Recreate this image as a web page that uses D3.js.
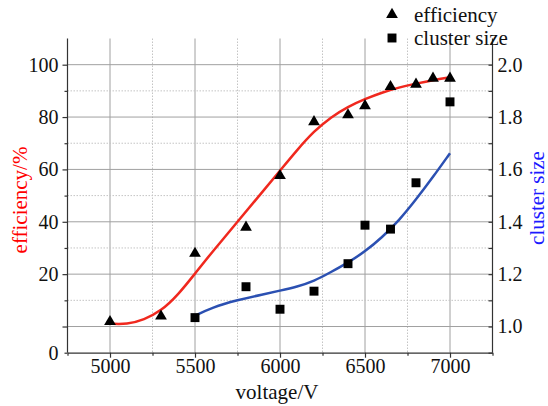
<!DOCTYPE html>
<html lang="en">
<head>
  <meta charset="UTF-8">
  <title>Efficiency and cluster size vs voltage</title>
  <script src="https://d3js.org/d3.v7.min.js"></script>
  <style>
    body { margin: 0; background: #fff; }
    text { font-family: "Liberation Serif", "Times New Roman", serif; fill: #111; }
    .axis path, .axis line { stroke: #333; stroke-width: 1.2; }
    .grid-major { stroke: #a0a0a0; stroke-width: 1; }
    .grid-minor { stroke: #c4c4c4; stroke-width: 1; stroke-dasharray: 1.5,1.5; }
  </style>
</head>
<body>
  <script>
    // measured points
    const effVoltage = [5000, 5300, 5500, 5800, 6000, 6200, 6400, 6500, 6650, 6800, 6900, 7000];
    const effValues = [7.9, 9.3, 27.9, 37.9, 57.6, 78.2, 80.8, 84.3, 91.6, 92.5, 94.8, 94.8];
    const sizeVoltage = [5500, 5800, 6000, 6200, 6400, 6500, 6650, 6800, 7000];
    const sizeValues = [1.034, 1.152, 1.066, 1.135, 1.240, 1.387, 1.372, 1.549, 1.858];

    // fitted curves
    const effFitVoltage = [5000, 5100, 5200, 5300, 5400, 5500, 5600, 5750, 5900, 6000, 6100, 6200, 6300, 6400, 6500, 6600, 6700, 6800, 6900, 7000];
    const effFit = [7.4, 7.2, 8.4, 10.6, 14.7, 20.2, 28.4, 40.0, 51.7, 59.5, 67.4, 74.6, 80.0, 84.0, 86.9, 89.4, 91.3, 92.8, 94.1, 95.2];
    const sizeFitVoltage = [5500, 5600, 5750, 5900, 6000, 6100, 6200, 6300, 6400, 6500, 6600, 6700, 6800, 6900, 7000];
    const sizeFit = [1.041, 1.073, 1.101, 1.123, 1.137, 1.152, 1.173, 1.208, 1.244, 1.286, 1.340, 1.405, 1.485, 1.571, 1.662];

    // ticks
    const xMajorTicks = [5000, 5500, 6000, 6500, 7000];
    const xMinorTicks = [4750, 5250, 5750, 6250, 6750, 7250];
    const effTicks = [0, 20, 40, 60, 80, 100];
    const sizeMajorTicks = [1.0, 1.2, 1.4, 1.6, 1.8, 2.0];
    const sizeMinorTicks = [0.9, 1.1, 1.3, 1.5, 1.7, 1.9];

    const margin = {top: 38.5, right: 55.5, bottom: 53.3, left: 67.5};
    const W = 548, H = 406;
    const width = W - margin.left - margin.right;
    const height = H - margin.top - margin.bottom;

    const x = d3.scaleLinear().domain([4750, 7250]).range([0, width]);
    // left axis: the 0 label sits at the bottom of the frame, 20..110 evenly spaced
    const yL = d3.scaleLinear().domain([0, 20, 110]).range([height, height * (1 - 0.3 / 1.2), 0]);
    const yR = d3.scaleLinear().domain([0.9, 2.1]).range([height, 0]);

    const svg = d3.select("body").append("svg")
      .attr("width", W)
      .attr("height", H);

    const g = svg.append("g")
      .attr("transform", "translate(" + margin.left + "," + margin.top + ")");

    // grid
    g.selectAll(".gx").data(xMinorTicks.slice(1, -1)).enter().append("line")
      .attr("class", "grid-minor")
      .attr("x1", d => x(d)).attr("x2", d => x(d))
      .attr("y1", 0).attr("y2", height);
    g.selectAll(".gX").data(xMajorTicks).enter().append("line")
      .attr("class", "grid-major")
      .attr("x1", d => x(d)).attr("x2", d => x(d))
      .attr("y1", 0).attr("y2", height);
    g.selectAll(".gy").data(sizeMinorTicks.slice(1)).enter().append("line")
      .attr("class", "grid-minor")
      .attr("x1", 0).attr("x2", width)
      .attr("y1", d => yR(d)).attr("y2", d => yR(d));
    g.selectAll(".gY").data(sizeMajorTicks).enter().append("line")
      .attr("class", "grid-major")
      .attr("x1", 0).attr("x2", width)
      .attr("y1", d => yR(d)).attr("y2", d => yR(d));

    // axes
    const xAxis = g.append("g")
      .attr("class", "axis")
      .attr("transform", "translate(0," + height + ")")
      .call(d3.axisBottom(x).tickValues(xMajorTicks).tickSize(5).tickSizeOuter(0).tickPadding(1).tickFormat(d3.format("d")));
    xAxis.selectAll("text").style("font-size", "20px").attr("fill", "#111");
    g.append("g")
      .attr("class", "axis")
      .attr("transform", "translate(0," + height + ")")
      .call(d3.axisBottom(x).tickValues(xMinorTicks).tickSize(3).tickSizeOuter(0).tickFormat(""))
      .select(".domain").remove();

    const leftTicks = g.append("g")
      .attr("class", "axis")
      .call(d3.axisLeft(yR).tickValues(sizeMajorTicks).tickSize(5).tickSizeOuter(0).tickFormat(""));
    leftTicks.select(".domain").attr("d", "M0," + height + "V0");
    g.append("g")
      .attr("class", "axis")
      .call(d3.axisLeft(yR).tickValues(sizeMinorTicks).tickSize(3).tickSizeOuter(0).tickFormat(""))
      .select(".domain").remove();
    const leftLabels = g.append("g")
      .attr("class", "axis")
      .call(d3.axisLeft(yL).tickValues(effTicks).tickSize(0).tickPadding(9));
    leftLabels.select(".domain").remove();
    leftLabels.selectAll("text").style("font-size", "20px").attr("fill", "#111");

    const rightAxis = g.append("g")
      .attr("class", "axis")
      .attr("transform", "translate(" + width + ",0)")
      .call(d3.axisRight(yR).tickValues(sizeMajorTicks).tickSizeInner(-4).tickSizeOuter(0).tickPadding(5).tickFormat(d3.format(".1f")));
    rightAxis.select(".domain").attr("d", "M0," + height + "V0");
    rightAxis.selectAll("text").style("font-size", "20px").attr("fill", "#111");
    g.append("g")
      .attr("class", "axis")
      .attr("transform", "translate(" + width + ",0)")
      .call(d3.axisRight(yR).tickValues(sizeMinorTicks).tickSizeInner(-4).tickSizeOuter(0).tickFormat(""))
      .select(".domain").remove();

    // fitted curves
    const effLine = d3.line()
      .x((d, i) => x(effFitVoltage[i]))
      .y(d => yL(d))
      .curve(d3.curveBasis);
    g.append("path")
      .datum(effFit)
      .attr("fill", "none")
      .attr("stroke", "#f0281e")
      .attr("stroke-width", 2.5)
      .attr("d", effLine);

    const sizeLine = d3.line()
      .x((d, i) => x(sizeFitVoltage[i]))
      .y(d => yR(d))
      .curve(d3.curveBasis);
    g.append("path")
      .datum(sizeFit)
      .attr("fill", "none")
      .attr("stroke", "#2b50b2")
      .attr("stroke-width", 2.5)
      .attr("d", sizeLine);

    // markers
    const tri = d3.symbol(d3.symbolTriangle, 60);
    const sq = d3.symbol(d3.symbolSquare, 80);
    g.selectAll(".eff").data(effValues).enter().append("path")
      .attr("d", tri)
      .attr("fill", "#000")
      .attr("transform", (d, i) => "translate(" + x(effVoltage[i]) + "," + yL(d) + ")");
    g.selectAll(".size").data(sizeValues).enter().append("path")
      .attr("d", sq)
      .attr("fill", "#000")
      .attr("transform", (d, i) => "translate(" + x(sizeVoltage[i]) + "," + yR(d) + ")");

    // axis titles
    svg.append("text")
      .attr("x", margin.left + width / 2 - 3)
      .attr("y", 399)
      .attr("text-anchor", "middle")
      .style("font-size", "21px")
      .text("voltage/V");
    svg.append("text")
      .attr("transform", "translate(20,200) rotate(-90)")
      .attr("text-anchor", "middle")
      .attr("dy", "0.35em")
      .style("font-size", "21px")
      .style("fill", "#ff0000")
      .text("efficiency/%");
    svg.append("text")
      .attr("transform", "translate(537,198) rotate(-90)")
      .attr("text-anchor", "middle")
      .attr("dy", "0.35em")
      .style("font-size", "21px")
      .style("fill", "#1a1aff")
      .text("cluster size");

    // legend
    const legend = svg.append("g").attr("transform", "translate(392,0)");
    const legendItems = [
      {label: "efficiency", symbol: tri, y: 14.5},
      {label: "cluster size", symbol: sq, y: 38}
    ];
    legendItems.forEach(item => {
      legend.append("path")
        .attr("d", item.symbol)
        .attr("fill", "#000")
        .attr("transform", "translate(0," + item.y + ")");
      legend.append("text")
        .attr("x", 22)
        .attr("y", item.y)
        .attr("dy", "0.35em")
        .style("font-size", "21px")
        .text(item.label);
    });
  </script>
</body>
</html>
